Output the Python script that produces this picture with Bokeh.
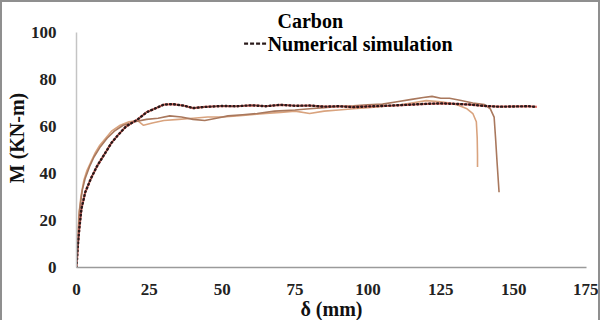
from bokeh.plotting import figure
from bokeh.models import Range1d, FixedTicker
from bokeh.core.properties import value
from bokeh.embed import file_html
from bokeh.resources import INLINE

# ---- data ----
x_ticks = [0, 25, 50, 75, 100, 125, 150, 175]
y_ticks = [0, 20, 40, 60, 80, 100]

num_x = [0, 0.5, 1, 1.7, 3, 5, 7, 9.5, 12, 14, 17, 21, 24, 27.6, 30, 33, 37, 40, 44, 50,
         55, 60, 65, 70, 75, 80, 85, 90, 95, 100, 105, 110, 115, 120, 125, 130, 135, 140,
         145, 150, 155, 158]
num_m = [0, 10, 17, 25, 32, 38, 43, 48, 53, 56, 60, 63, 66, 68, 69.3, 69.5, 68.8, 67.8, 68.3, 68.7,
         68.6, 69, 68.6, 69.2, 68.8, 68.9, 68.4, 68.6, 68.2, 68.5, 68.7, 69, 69.3, 69.6, 69.8, 69.6,
         69.3, 68.7, 68.4, 68.5, 68.6, 68.3]

exp1_x = [0, 0.8, 1.5, 2.5, 3.5, 5, 6.5, 8, 10, 12, 15, 18, 21, 23, 26, 30, 35, 40, 45, 50,
          55, 60, 65, 70, 75, 80, 85, 90, 95, 100, 105, 110, 115, 120, 125, 128, 131, 134,
          136, 137.2, 137.5, 137.6, 137.6]
exp1_m = [0, 22, 30, 37, 41, 45, 49, 52, 55, 58, 60.5, 62, 62.5, 60.5, 61.5, 62.5, 63, 63.5, 64, 64,
          64.5, 65, 65.5, 66, 66.5, 65.5, 66.5, 67, 67.5, 68, 68.5, 69, 70, 71, 70.5, 70, 69, 67.5,
          65.5, 62, 55, 48, 42.8]

exp2_x = [0, 1, 2, 3, 4.5, 6, 8, 10.5, 13, 16, 20, 24, 28, 32, 36, 40, 44, 48, 52, 57,
          62, 68, 75, 80, 85, 90, 95, 100, 105, 110, 115, 119, 122, 125, 128, 132, 136, 140,
          142, 143.3, 143.8, 144.3, 145]
exp2_m = [0, 24, 33, 38, 43, 47, 51, 55, 58, 60.5, 62, 63, 63.5, 64.5, 64, 63, 62.5, 63.5, 64.5, 65,
          65.5, 66.5, 67, 67.5, 68, 68.5, 68.8, 69.2, 69.5, 70.5, 71.5, 72.3, 72.8, 72, 72, 71, 70, 69.3,
          67.5, 64, 55, 45, 32]

title_text = "Carbon"
legend_text = "Numerical simulation"
x_label = "δ (mm)"
y_label = "M (KN-m)"

FONT = "Liberation Serif"

p = figure(width=600, height=320, output_backend="svg", toolbar_location=None,
           x_range=Range1d(0, 175), y_range=Range1d(0, 110.17),
           min_border_left=65, min_border_right=16, min_border_top=6, min_border_bottom=54)
p.styles = {"border-style": "solid", "border-color": "#8f8f8f",
            "border-width": "2px 2px 0px 2px"}
p.outline_line_color = None
p.grid.visible = False
p.background_fill_color = "white"

# experimental curves
p.line(exp1_x, exp1_m, line_color="#d9a37e", line_width=1.6)
p.line(exp2_x, exp2_m, line_color="#a9785d", line_width=1.6)

# numerical simulation: red line with dark dots
p.line(num_x, num_m, line_color="#e9776e", line_width=2.2)
p.line(num_x, num_m, line_color="#2a1a1a", line_width=2.4, line_dash="1 3", line_cap="round")

# legend / title texts
p.text(x=[80.2], y=[105], text=[title_text], text_font=value(FONT), text_font_style="bold",
       text_font_size="20px", text_align="center", text_baseline="middle", text_color="black")
p.line([57.5, 65.2], [95.2, 95.2], line_color="#2a1a1a", line_width=2.2, line_dash="4 2")
p.text(x=[65.6], y=[95], text=[legend_text], text_font=value(FONT), text_font_style="bold",
       text_font_size="20px", text_align="left", text_baseline="middle", text_color="black")

# axes
xa = p.xaxis[0]
xa.ticker = FixedTicker(ticks=x_ticks)
xa.bounds = (0, 175)
xa.axis_line_color = "#9a9a9a"
xa.axis_line_width = 1.5
xa.major_tick_line_color = None
xa.minor_tick_line_color = None
xa.major_label_text_font = FONT
xa.major_label_text_font_style = "bold"
xa.major_label_text_font_size = "17px"
xa.major_label_text_color = "#222222"
xa.major_label_standoff = 10
xa.axis_label = x_label
xa.axis_label_text_font = FONT
xa.axis_label_text_font_style = "bold"
xa.axis_label_text_font_size = "20px"
xa.axis_label_text_color = "#111111"
xa.axis_label_standoff = 0

ya = p.yaxis[0]
ya.ticker = FixedTicker(ticks=y_ticks)
ya.bounds = (0, 100)
ya.axis_line_color = "#c4c4c4"
ya.axis_line_width = 1.5
ya.major_tick_line_color = None
ya.minor_tick_line_color = None
ya.major_label_text_font = FONT
ya.major_label_text_font_style = "bold"
ya.major_label_text_font_size = "17px"
ya.major_label_text_color = "#222222"
ya.major_label_standoff = 14
ya.axis_label = y_label
ya.axis_label_text_font = FONT
ya.axis_label_text_font_style = "bold"
ya.axis_label_text_font_size = "20px"
ya.axis_label_text_color = "#111111"
ya.axis_label_standoff = 0

open("out.html", "w").write(file_html(p, INLINE))
